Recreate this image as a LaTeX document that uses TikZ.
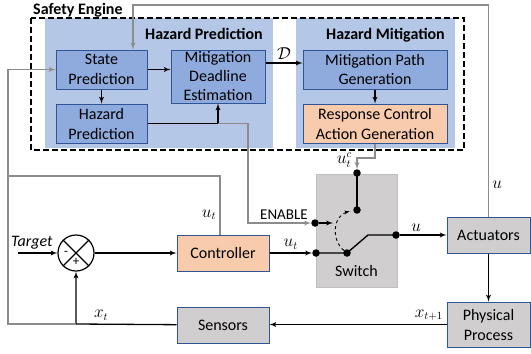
\documentclass[tikz,border=0pt]{standalone}
\usepackage{amsmath,amssymb}
\usepackage{fontspec}
\setmainfont{Carlito}
\usepackage{xcolor}
\usetikzlibrary{shapes,arrows,positioning,calc}

\definecolor{panelblue}{HTML}{B4C7E7}
\definecolor{boxblue}{HTML}{8FAADC}
\definecolor{edgeblue}{HTML}{2F5597}
\definecolor{boxorange}{HTML}{F8CBAD}
\definecolor{boxgray}{HTML}{D0CECE}
\definecolor{swgray}{HTML}{BFBFBF}
\definecolor{wiregray}{HTML}{8C8C8C}

\begin{document}
\begin{tikzpicture}[x=1pt, y=-1pt, >=latex', font=\fontsize{16}{20}\selectfont]
    \tikzstyle{block} = [rectangle, draw=edgeblue, line width=1pt, fill=boxblue, inner sep=0pt, align=center, minimum height=39pt]
    \tikzstyle{ctl} = [block, fill=boxorange]
    \tikzstyle{plant} = [block, fill=boxgray, minimum height=36pt]
    \tikzstyle{title} = [font=\fontsize{16}{20}\selectfont\bfseries, inner sep=0pt]
    \tikzstyle{arrow} = [draw, -latex', line width=1.3pt]
    \tikzstyle{garrow} = [draw=wiregray, -latex', line width=1.3pt]
    \tikzstyle{gline} = [draw=wiregray, line width=1.3pt]
    \tikzstyle{wire} = [draw, line width=1.4pt]
    \tikzstyle{pin} = [circle, fill=black, inner sep=0pt, minimum size=7.5pt]

    \useasboundingbox (0,0) rectangle (531,354);

    % safety engine
    \fill[panelblue] (45,18) rectangle (273,148);
    \fill[panelblue] (296,18) rectangle (455,148);
    \draw[line width=1.3pt, dash pattern=on 6pt off 3pt] (31,18) rectangle (464,150);
    \node[title, anchor=base west] (setitle) at (33,14) {Safety Engine};
    \node[title, anchor=base east] (hptitle) at (263,39) {Hazard Prediction};
    \node[title, anchor=base east] (hmtitle) at (445,39) {Hazard Mitigation};

    \node [block, minimum width=91pt] (sp) at (101.5,69.5) {State\\Prediction};
    \node [block, minimum width=91pt, below=14pt of sp] (hp) {Hazard\\Prediction};
    \node [block, minimum width=94pt, minimum height=53pt, anchor=north west, font=\fontsize{16}{19}\selectfont] (mde) at ([xshift=23pt]sp.north east) {Mitigation\\Deadline\\Estimation};
    \node [block, minimum width=144pt] (mpg) at (375,69.5) {Mitigation Path\\Generation};
    \node [ctl, minimum width=144pt, below=14pt of mpg] (rca) {Response Control\\Action Generation};

    % control loop
    \node [ctl, minimum width=92pt, minimum height=36pt] (ctrl) at (223,253) {Controller};
    \node [plant, minimum width=92pt, below=35pt of ctrl] (sens) {Sensors};
    \node [plant, minimum width=83pt] (act) at (488.5,235) {Actuators};
    \node [plant, minimum width=83pt, minimum height=45pt, below=48pt of act] (proc) {Physical\\Process};
    \node [circle, draw, line width=1.2pt, fill=white, minimum size=36pt, inner sep=0pt] (sum) at (76,253) {};
    \draw [line width=1.2pt] (sum.north west) -- (sum.south east) (sum.north east) -- (sum.south west);
    \node [font=\fontsize{13}{14}\selectfont, inner sep=0pt] (minus) at ([xshift=-10pt]sum.center) {-};
    \node [font=\fontsize{13}{14}\selectfont, inner sep=0pt] (plus) at ([yshift=-9pt]sum.center) {+};

    % switch
    \node [rectangle, draw=swgray, fill=boxgray, line width=1pt, minimum width=81pt, minimum height=113pt] (sw) at (356.5,230.5) {};
    \node (swlabel) at ([yshift=17pt]sw.south) {Switch};
    \node [pin] (c1) at (357,173) {};
    \node [pin] (c2) at (357,210) {};
    \node [pin] (en) at (315,223) {};
    \node [pin] (in) at (316,253) {};
    \node [pin] (piv) at (347,253) {};
    \node [pin] (out) at (396,235) {};
    \coordinate (bend) at (368,235);
    \coordinate (tipc) at (350,211);
    \coordinate (ent) at (333,223);
    \draw [wire] (c1.center) -- (c2.center);
    \draw [wire] (in.center) -- (piv.center) -- (bend) -- (out.center);
    \draw [draw, -latex', line width=0.9pt, dashed] (piv) .. controls (331,240) and (333,216) .. (tipc);
    \draw [arrow] (en) -- (ent);

    % safety engine wiring
    \draw [arrow] (sp) -- (sp -| mde.west);
    \draw [arrow] (sp) -- (hp);
    \draw [arrow] (hp) -| (mde);
    \coordinate (hpj) at (hp -| mde);
    \coordinate (enk) at (248,223);
    \draw [garrow] (hpj) -| (enk) -- node[above, pos=0.57, font=\fontsize{15}{18}\selectfont] {ENABLE} (en);
    \draw [arrow] ([yshift=13.5pt]mde.east) -- node[above] {$\mathcal{D}$} ([yshift=13.5pt]mde.east -| mpg.west);
    \draw [arrow] (mpg) -- (rca);
    \coordinate (uck) at (357,158);
    \draw [garrow] (rca.south) |- (uck) -- (c1);
    \node [anchor=east, inner sep=0pt] (uclabel) at ([xshift=-5pt,yshift=-2pt]uck) {$u_t^c$};

    % loop wiring
    \coordinate (tgt) at (18,253);
    \draw [arrow] (tgt) -- node[above, pos=0.35] {\textit{Target}} (sum);
    \draw [arrow] (sum) -- (ctrl);
    \draw [arrow] (ctrl) -- node[above] {$u_t$} (in);
    \draw [arrow] (out) -- node[above, pos=0.35] {$u$} (act);
    \draw [arrow] (act) -- (proc);
    \draw [arrow] (proc) -- node[above, pos=0.1] {$x_{t+1}$} (proc -| sens.east);
    \coordinate (fbk) at (76,324);
    \draw [arrow] (sens) -- node[above, pos=0.75] {$x_t$} (fbk) -- (sum);
    \coordinate (lft) at (8,324);
    \coordinate (lfu) at (8,176);
    \draw [garrow] (fbk) -- (lft) |- (sp);
    \draw [gline] ([xshift=-3pt]ctrl.north) -- node[left, pos=0.34] {$u_t$} ([xshift=-3pt]ctrl.north |- lfu) -- (lfu);
    \coordinate (topk) at (133,5);
    \draw [garrow] (act) -- node[right, pos=0.15] {$u$} (act |- topk) -- (topk) -- (topk |- sp.north);
\end{tikzpicture}
\end{document}
